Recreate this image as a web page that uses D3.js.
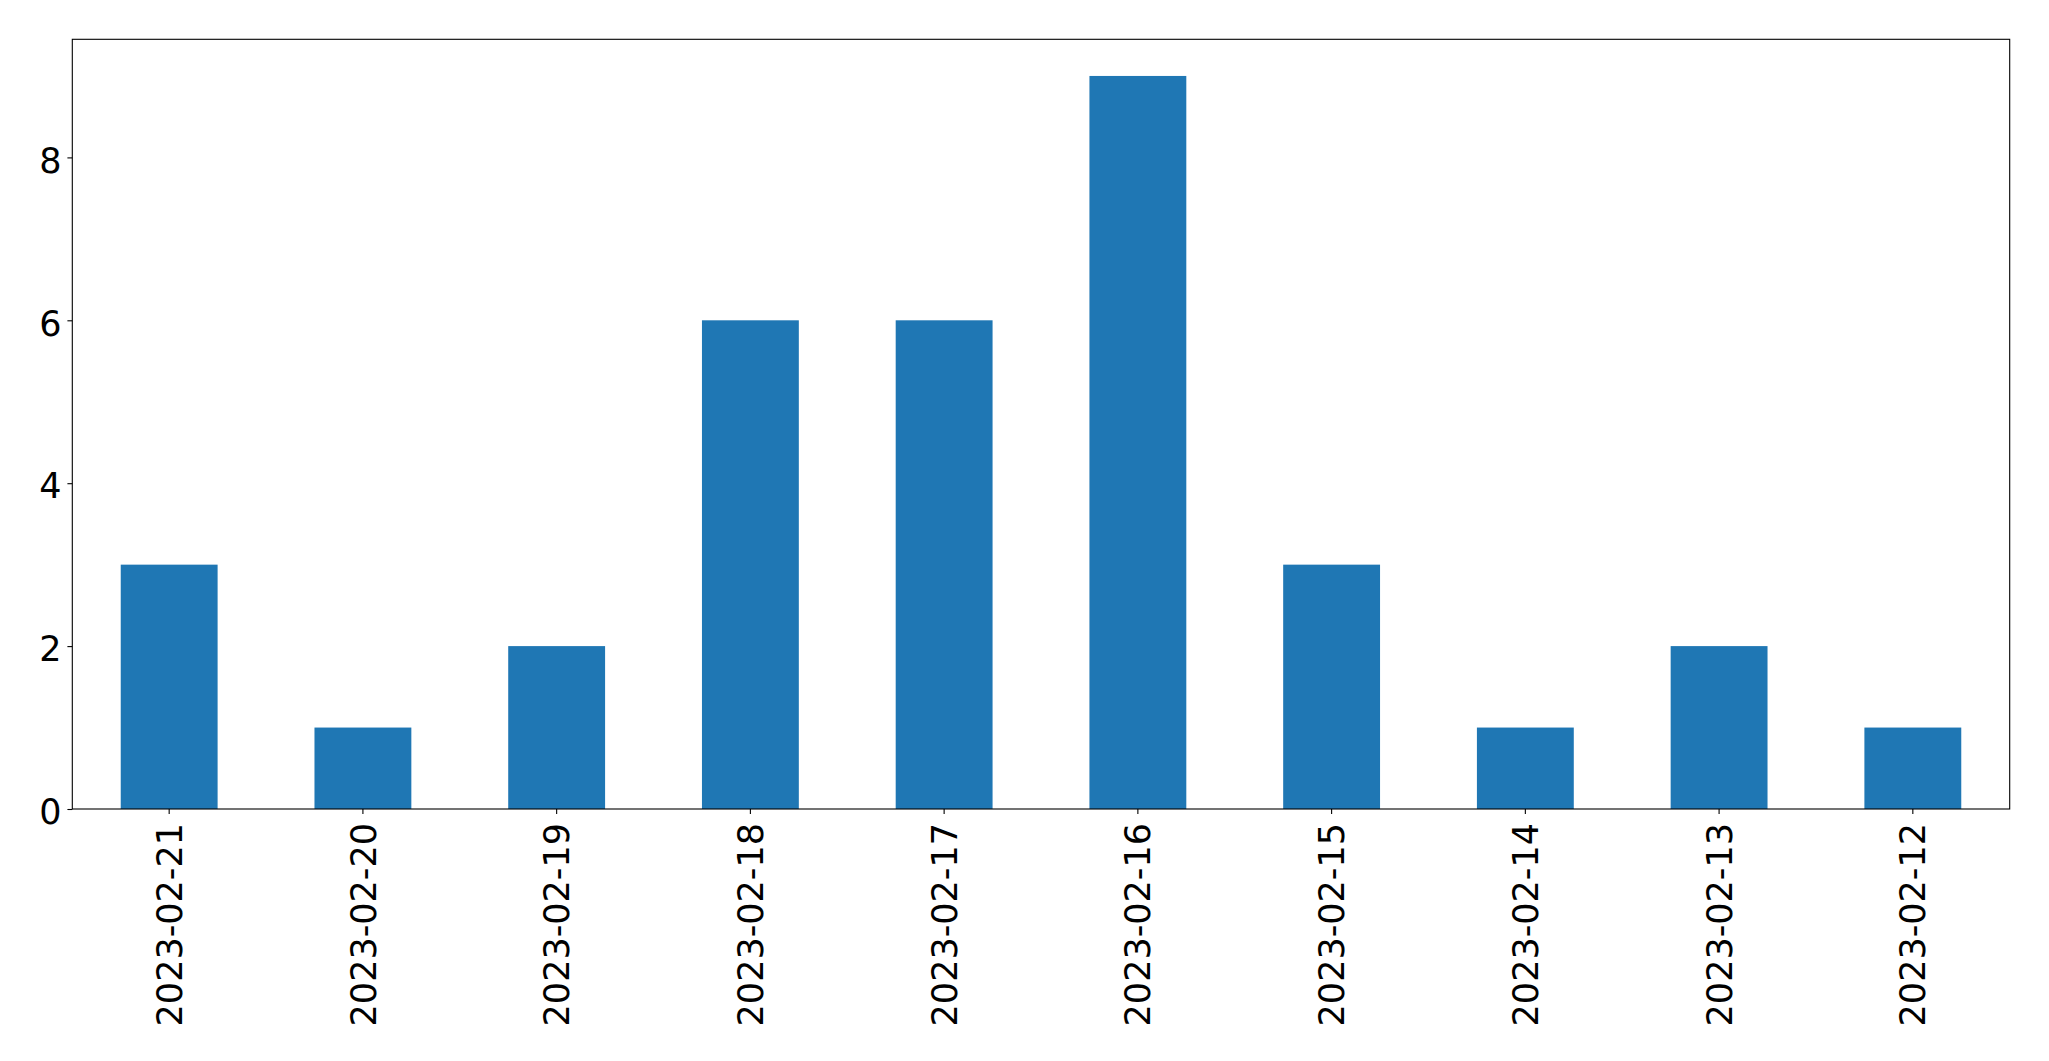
<!DOCTYPE html>
<html>
<head>
<meta charset="utf-8">
<script src="https://cdn.jsdelivr.net/npm/d3@7"></script>
<style>
  html, body { margin: 0; padding: 0; background: #fff; }
  svg { display: block; }
  text { font-family: "DejaVu Sans", sans-serif; fill: #000; }
</style>
</head>
<body>
<svg id="chart" width="2049" height="1061"></svg>
<script>
const categories = ["2023-02-21","2023-02-20","2023-02-19","2023-02-18","2023-02-17","2023-02-16","2023-02-15","2023-02-14","2023-02-13","2023-02-12"];
const values = [3, 1, 2, 6, 6, 9, 3, 1, 2, 1];
const yTicks = [0, 2, 4, 6, 8];

const W = 2049, H = 1061;
const m = { left: 72.3, right: 2009.7, top: 39.3, bottom: 809 };
const svg = d3.select("#chart");

const x = d3.scaleBand()
  .domain(categories)
  .range([m.left, m.right])
  .paddingInner(0.5)
  .paddingOuter(0.25);

const y = d3.scaleLinear()
  .domain([0, d3.max(values) * 1.05])
  .range([m.bottom, m.top]);

// bars
svg.append("g").selectAll("rect")
  .data(values)
  .join("rect")
  .attr("x", (d, i) => x(categories[i]))
  .attr("width", x.bandwidth())
  .attr("y", d => y(d))
  .attr("height", d => y(0) - y(d))
  .attr("fill", "#1f77b4");

const fs = 35;

// y axis
const yAxis = d3.axisLeft(y).tickValues(yTicks).tickSize(4.9).tickPadding(6).tickFormat(d3.format("d"));
const gy = svg.append("g").attr("transform", `translate(${m.left},0)`).call(yAxis);
gy.select(".domain").remove();
gy.selectAll(".tick line").attr("stroke", "#000").attr("stroke-width", 1.1);
gy.selectAll(".tick text").attr("font-size", fs).attr("dy", "0.42em").style("font-family", "DejaVu Sans");

// x axis
const xAxis = d3.axisBottom(x).tickSize(4.9).tickPadding(0);
const gx = svg.append("g").attr("transform", `translate(0,${m.bottom})`).call(xAxis);
gx.select(".domain").remove();
gx.selectAll(".tick line").attr("stroke", "#000").attr("stroke-width", 1.1);
gx.selectAll(".tick text")
  .attr("font-size", fs)
  .style("font-family", "DejaVu Sans")
  .attr("text-anchor", "end")
  .attr("transform", "translate(0,14) rotate(-90)")
  .attr("x", 0)
  .attr("y", 0)
  .attr("dy", "0.36em");

// frame
svg.append("rect")
  .attr("x", m.left).attr("y", m.top)
  .attr("width", m.right - m.left).attr("height", m.bottom - m.top)
  .attr("fill", "none").attr("stroke", "#000").attr("stroke-width", 1.1);
</script>
</body>
</html>
